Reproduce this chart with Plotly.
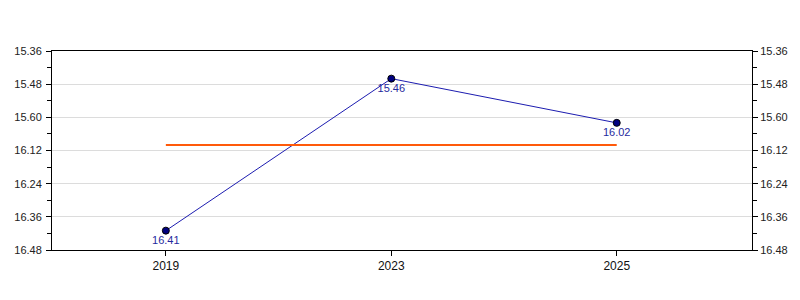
import plotly.graph_objects as go

# ---- data ----
years = ["2019", "2023", "2025"]
values = [16.41, 15.46, 16.02]
ref_value = 16.10
y_ticks = [15.36, 15.48, 15.60, 16.12, 16.24, 16.36, 16.48]

# broken axis: the interval (15.60, 16.00) is collapsed
BREAK_LO, BREAK_HI = 15.60, 16.00


def to_axis(v):
    return v if v <= BREAK_LO else v - (BREAK_HI - BREAK_LO)


def fmt(v):
    return f"{v:.2f}"


ys = [to_axis(v) for v in values]
tickvals = [to_axis(v) for v in y_ticks]
ticktext = [fmt(v) for v in y_ticks]
yrange = [to_axis(y_ticks[-1]), to_axis(y_ticks[0])]  # reversed

font = "Liberation Sans, Arial, sans-serif"
navy = "#000080"

fig = go.Figure()
fig.add_trace(go.Scatter(
    x=years, y=ys, mode="lines+markers+text",
    line=dict(color="#1c1cb0", width=1),
    marker=dict(size=7, color=navy, line=dict(color="#000000", width=1)),
    text=[fmt(v) for v in values], textposition="bottom center",
    textfont=dict(family=font, size=11, color="#1f2a9e"),
    showlegend=False,
))
fig.add_trace(go.Scatter(
    x=[years[0], years[-1]], y=[to_axis(ref_value)] * 2,
    mode="lines", line=dict(color="#ff5a0a", width=2),
    hoverinfo="skip", showlegend=False,
))
# invisible trace for the right axis
fig.add_trace(go.Scatter(x=years, y=ys, yaxis="y2", mode="lines",
                         line=dict(width=0), opacity=0, hoverinfo="skip",
                         showlegend=False))

yax_common = dict(
    range=yrange, tickmode="array", tickvals=tickvals, ticktext=ticktext,
    ticks="outside", ticklen=5, tickcolor="#000", tickwidth=1,
    tickfont=dict(family=font, size=11, color="#222"),
    minor=dict(tickmode="linear", tick0=to_axis(y_ticks[0]), dtick=0.06,
               ticks="outside", ticklen=4, tickcolor="#000", showgrid=False),
    zeroline=False, fixedrange=True,
)

fig.update_layout(
    width=800, height=300,
    margin=dict(l=52, r=48, t=51, b=50),
    paper_bgcolor="white", plot_bgcolor="white",
    xaxis=dict(
        type="category", categoryorder="array", categoryarray=years,
        range=[-0.505, 2.6],
        ticks="outside", ticklen=5, tickcolor="#000",
        showgrid=False, showline=True, linecolor="#000", linewidth=1,
        mirror=True, tickfont=dict(family=font, size=12, color="#111"),
    ),
    yaxis=dict(
        **yax_common, showgrid=True, gridcolor="#dcdcdc", gridwidth=1,
        showline=True, linecolor="#000", linewidth=1, mirror=True,
        ticklabelstandoff=2,
    ),
    yaxis2=dict(
        **yax_common, overlaying="y", side="right", showgrid=False,
        showline=True, linecolor="#000", linewidth=1,
    ),
)

fig.write_html("out.html")
